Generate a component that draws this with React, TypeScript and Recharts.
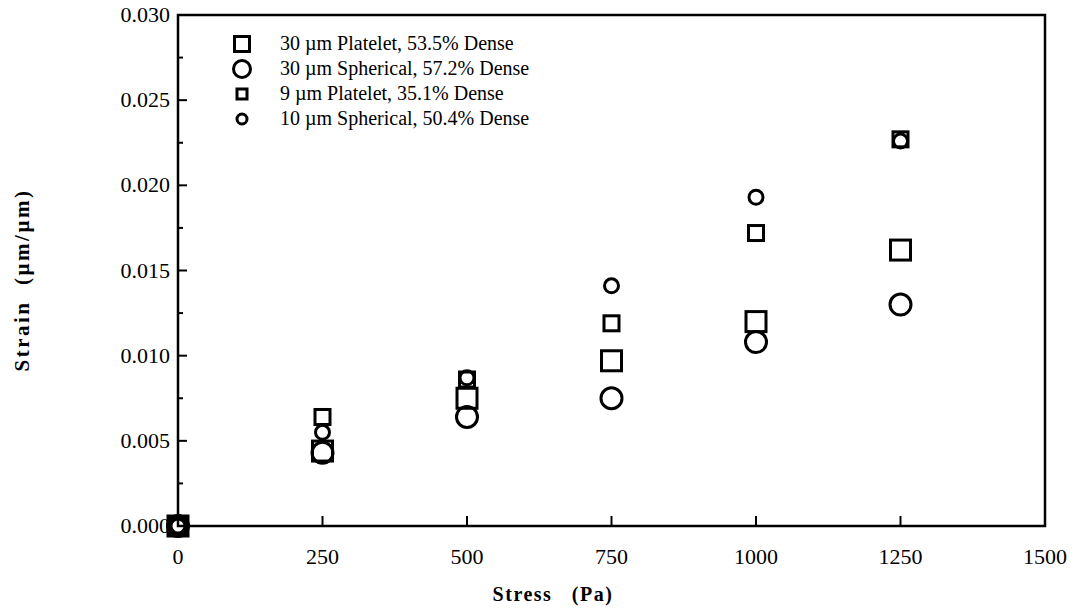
import { ReferenceArea, Scatter, ScatterChart, XAxis, YAxis } from "recharts";

const stress = [0, 250, 500, 750, 1000, 1250];
const platelet30 = [0, 0.0044, 0.0075, 0.0097, 0.012, 0.0162];
const spherical30 = [0, 0.0043, 0.0064, 0.0075, 0.0108, 0.013];
const platelet9 = [0, 0.0064, 0.0086, 0.0119, 0.0172, 0.0227];
const spherical10 = [0, 0.0055, 0.0087, 0.0141, 0.0193, 0.0226];

const xTicks = [0, 250, 500, 750, 1000, 1250, 1500];
const yTicks = [0, 0.0025, 0.005, 0.0075, 0.01, 0.0125, 0.015, 0.0175, 0.02, 0.0225, 0.025, 0.0275, 0.03];

const FONT = "'Liberation Serif', 'Times New Roman', serif";

type Kind = "sq" | "ci";
const series = [
  { name: "30 \u00b5m Platelet, 53.5% Dense", values: platelet30, kind: "sq" as Kind, size: 20 },
  { name: "30 \u00b5m Spherical, 57.2% Dense", values: spherical30, kind: "ci" as Kind, size: 21 },
  { name: "9 \u00b5m Platelet, 35.1% Dense", values: platelet9, kind: "sq" as Kind, size: 15 },
  { name: "10 \u00b5m Spherical, 50.4% Dense", values: spherical10, kind: "ci" as Kind, size: 14 },
];

function Marker({ cx, cy, kind, size }: { cx: number; cy: number; kind: Kind; size: number }) {
  if (kind === "sq")
    return <rect x={cx - size / 2} y={cy - size / 2} width={size} height={size} fill="none" stroke="#000" strokeWidth={3} />;
  return <circle cx={cx} cy={cy} r={size / 2} fill="none" stroke="#000" strokeWidth={3} />;
}

const YTick = (p: any) => {
  const v = p.payload.value as number;
  const major = Math.round(v * 10000) % 50 === 0;
  return (
    <g>
      <line x1={p.x} x2={p.x + (major ? 9 : 5)} y1={p.y} y2={p.y} stroke="#000" strokeWidth={2} />
      {major && (
        <text x={p.x - 8} y={p.y + 7} textAnchor="end" fontSize={22} fontFamily={FONT} fill="#000">
          {v.toFixed(3)}
        </text>
      )}
    </g>
  );
};

const XTick = (p: any) => {
  const v = p.payload.value as number;
  return (
    <g>
      <line x1={p.x} x2={p.x} y1={p.y} y2={p.y - 10} stroke="#000" strokeWidth={2} />
      <text x={p.x} y={p.y + 38} textAnchor="middle" fontSize={22} fontFamily={FONT} fill="#000">
        {v}
      </text>
    </g>
  );
};

export default function App() {
  return (
    <div style={{ position: "absolute", left: 0, top: 0, width: 1077, height: 614, background: "#fff", fontFamily: FONT }}>
      <ScatterChart width={1077} height={614} margin={{ top: 15, right: 32, bottom: 58, left: 0 }}>
        <XAxis
          type="number"
          dataKey="x"
          domain={[0, 1500]}
          ticks={xTicks}
          height={30}
          axisLine={false}
          tickLine={false}
          tickSize={0}
          tickMargin={0}
          tick={XTick}
          interval={0}
        />
        <YAxis
          type="number"
          dataKey="y"
          domain={[0, 0.03]}
          ticks={yTicks}
          width={178}
          axisLine={false}
          tickLine={false}
          tickSize={0}
          tickMargin={0}
          tick={YTick}
          interval={0}
        />
        <ReferenceArea x1={0} x2={1500} y1={0} y2={0.03} fill="none" stroke="#000" strokeWidth={2.5} fillOpacity={0} />
        {series.map((s) => (
          <Scatter
            key={s.name}
            name={s.name}
            data={stress.map((x, i) => ({ x, y: s.values[i] }))}
            isAnimationActive={false}
            shape={(p: any) => <Marker cx={p.cx} cy={p.cy} kind={s.kind} size={s.size} />}
          />
        ))}
      </ScatterChart>
      <div
        style={{
          position: "absolute",
          left: 4,
          top: 280,
          transform: "translate(0, -50%) rotate(-90deg)",
          transformOrigin: "center",
          width: 36,
          display: "flex",
          justifyContent: "center",
          whiteSpace: "nowrap",
          fontWeight: "bold",
          fontSize: 21,
          letterSpacing: 2.5,
        }}
      >
        Strain&nbsp;&nbsp;(µm/µm)
      </div>
      <div
        style={{
          position: "absolute",
          left: 553,
          top: 583,
          transform: "translateX(-50%)",
          whiteSpace: "nowrap",
          fontWeight: "bold",
          fontSize: 20,
          letterSpacing: 1.5,
        }}
      >
        Stress&nbsp;&nbsp;&nbsp;(Pa)
      </div>
      <div style={{ position: "absolute", left: 230, top: 31 }}>
        {series.map((s) => (
          <div key={s.name} style={{ display: "flex", alignItems: "center", height: 25, fontSize: 20 }}>
            <svg width={26} height={24} style={{ marginRight: 24 }}>
              <Marker cx={12} cy={12} kind={s.kind} size={s.kind === "sq" ? s.size - 5 : s.size - 4} />
            </svg>
            <span>{s.name}</span>
          </div>
        ))}
      </div>
    </div>
  );
}
